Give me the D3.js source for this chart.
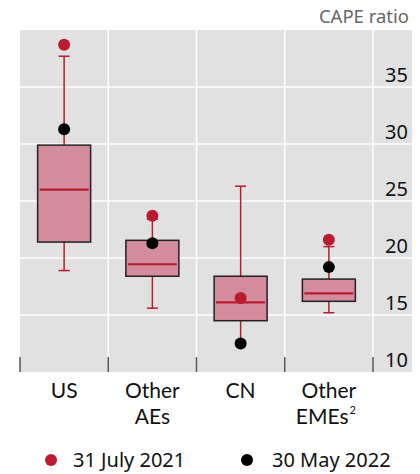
<!DOCTYPE html>
<html><head><meta charset="utf-8">
<script src="https://cdn.jsdelivr.net/npm/d3@7"></script>
<style>body{margin:0;background:#fff}svg{display:block}text{font-family:"Noto Sans",sans-serif}text.xl{font-family:Lato,sans-serif}</style>
</head><body><svg id="c" width="420" height="474"></svg>
<script>
const categories = ["US", "Other AEs", "CN", "Other EMEs"];
const whiskerLow  = [18.9, 15.6, 12.7, 15.2];
const q1          = [21.4, 18.4, 14.5, 16.2];
const median      = [26.0, 19.45, 16.1, 16.9];
const q3          = [29.9, 21.55, 18.4, 18.15];
const whiskerHigh = [37.7, 23.4, 26.3, 21.0];
const july2021    = [38.7, 23.7, 16.5, 21.6];
const may2022     = [31.3, 21.3, 12.5, 19.2];
const yTicks      = [10, 15, 20, 25, 30, 35];
const seriesNames = ["31 July 2021", "30 May 2022"];

const RED = "#b81c2e", BLACK = "#000";
const svg = d3.select("#c");
const L = 20, R = 373, RB = 412, T = 30, B = 372;
const x = d3.scaleBand().domain(categories).range([L, R]);
const y = d3.scaleLinear().domain([10, 40]).range([B, T]);

svg.append("rect").attr("x", L).attr("y", T).attr("width", RB - L).attr("height", B - T).attr("fill", "#e1e1e1");
svg.selectAll(".hg").data(yTicks.filter(d => d > 10)).join("line")
  .attr("x1", L).attr("x2", RB).attr("y1", d => y(d)).attr("y2", d => y(d))
  .attr("stroke", "#fff").attr("stroke-width", 1.5);
const bounds = categories.map(c => x(c)).concat([R]);
svg.selectAll(".vg").data(bounds.slice(1)).join("line")
  .attr("x1", d => d).attr("x2", d => d).attr("y1", T).attr("y2", B)
  .attr("stroke", "#fff").attr("stroke-width", 1.5);
svg.selectAll(".bt").data(bounds).join("line")
  .attr("x1", d => d).attr("x2", d => d).attr("y1", B - 15).attr("y2", B)
  .attr("stroke", "#555").attr("stroke-width", 1.5);
svg.selectAll(".yl").data(yTicks).join("text")
  .attr("x", 408).attr("y", d => y(d) - 5).attr("text-anchor", "end")
  .attr("font-size", 20).attr("fill", "#111").text(d => d);
svg.append("text").attr("x", 409).attr("y", 23).attr("text-anchor", "end")
  .attr("font-size", 18.5).attr("fill", "#666").text("CAPE ratio");

const bw = 53, cap = 11;
categories.forEach((c, i) => {
  const cx = x(c) + x.bandwidth() / 2;
  const g = svg.append("g");
  g.append("line").attr("x1", cx).attr("x2", cx).attr("y1", y(whiskerHigh[i])).attr("y2", y(q3[i])).attr("stroke", RED).attr("stroke-width", 1.5);
  g.append("line").attr("x1", cx).attr("x2", cx).attr("y1", y(q1[i])).attr("y2", y(whiskerLow[i])).attr("stroke", RED).attr("stroke-width", 1.5);
  [whiskerHigh[i], whiskerLow[i]].forEach(v => g.append("line").attr("x1", cx - cap/2).attr("x2", cx + cap/2).attr("y1", y(v)).attr("y2", y(v)).attr("stroke", RED).attr("stroke-width", 1.5));
  g.append("rect").attr("x", cx - bw/2).attr("y", y(q3[i])).attr("width", bw).attr("height", y(q1[i]) - y(q3[i]))
    .attr("fill", "#d48b9d").attr("stroke", "#222").attr("stroke-width", 1.5);
  g.append("line").attr("x1", cx - bw/2 + 2).attr("x2", cx + bw/2 - 2).attr("y1", y(median[i])).attr("y2", y(median[i])).attr("stroke", RED).attr("stroke-width", 2.2);
  g.append("circle").attr("cx", cx).attr("cy", y(july2021[i])).attr("r", 6).attr("fill", RED);
  g.append("circle").attr("cx", cx).attr("cy", y(may2022[i])).attr("r", 6).attr("fill", BLACK);
});

const labelLines = [["US"], ["Other", "AEs"], ["CN"], ["Other", "EMEs"]];
categories.forEach((c, i) => {
  const cx = x(c) + x.bandwidth() / 2;
  const tx = svg.append("text").attr("class", "xl").attr("y", 398).attr("font-size", 21).attr("fill", "#111");
  labelLines[i].forEach((t, j) => {
    const sp = tx.append("tspan").attr("text-anchor", "middle").attr("x", cx).attr("dy", j === 0 ? 0 : 25.5).text(t);
    if (c === "Other EMEs" && j === 1) {
      sp.attr("x", cx - 3);
      tx.append("tspan").attr("font-size", 11).attr("dy", -9.5).attr("dx", 1).text("2");
    }
  });
});

const leg = [{x: 51, tx: 73, c: RED}, {x: 247, tx: 272, c: BLACK}];
leg.forEach((l, i) => {
  svg.append("circle").attr("cx", l.x).attr("cy", 460).attr("r", 6).attr("fill", l.c);
  svg.append("text").attr("x", l.tx).attr("y", 467).attr("font-size", 20).attr("fill", "#111").text(seriesNames[i]);
});
</script></body></html>
